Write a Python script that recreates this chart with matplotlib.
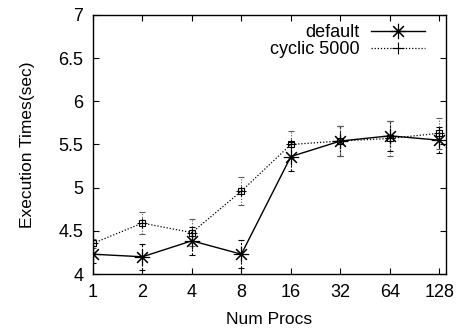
import matplotlib
matplotlib.use("Agg")
import matplotlib.pyplot as plt

# data
procs = ["1", "2", "4", "8", "16", "32", "64", "128"]
default_t = [4.23, 4.20, 4.385, 4.23, 5.36, 5.54, 5.60, 5.55]
default_err = [0.10, 0.15, 0.16, 0.16, 0.17, 0.17, 0.17, 0.15]
cyclic_t = [4.355, 4.59, 4.48, 4.96, 5.50, 5.54, 5.57, 5.63]
cyclic_err = [0.05, 0.13, 0.16, 0.16, 0.16, 0.17, 0.20, 0.18]

plt.rcParams["font.family"] = ["Liberation Sans", "DejaVu Sans"]
plt.rcParams["font.size"] = 12

fig = plt.figure(figsize=(4.6, 3.31), dpi=100)
ax = fig.add_axes([0.202, 0.172, 0.768, 0.783])

x = list(range(len(procs)))
star = (8, 2, 0)

# error bars first, dashed like gnuplot
eb1 = ax.errorbar(x, default_t, yerr=default_err, fmt="none", ecolor="black",
                  elinewidth=0.8, capsize=2, capthick=0.8)
eb1[2][0].set_linestyle((0, (2, 1.5)))
eb2 = ax.errorbar(x, cyclic_t, yerr=cyclic_err, fmt="none", ecolor="0.35",
                  elinewidth=0.8, capsize=2, capthick=0.8)
eb2[2][0].set_linestyle((0, (1, 1.5)))

ax.plot(x, default_t, color="black", lw=1.0, marker=star, ms=11, mew=0.8,
        label="default")
ax.plot(x, cyclic_t, color="black", lw=0.9, ls=(0, (1, 1.5)), marker="s",
        ms=4, mfc="none", mew=0.8)
ax.plot(x, cyclic_t, ls="none", marker="+", ms=7, mew=0.8, color="black")
ax.plot([], [], color="black", lw=0.9, ls=(0, (1, 1.5)), marker="+", ms=9,
        mew=0.8, label="cyclic 5000")

ax.set_xlim(0, 7.14)
ax.set_ylim(4, 7)
ax.set_xticks(x)
ax.set_xticklabels(procs)
ax.set_yticks([4, 4.5, 5, 5.5, 6, 6.5, 7])
ax.set_yticklabels(["4", "4.5", "5", "5.5", "6", "6.5", "7"])
ax.tick_params(direction="in", length=4, width=0.8, top=True, right=True,
               labelsize=13, pad=7)
for s in ax.spines.values():
    s.set_linewidth(1.0)

ax.set_xlabel("Num Procs", fontsize=12.5, labelpad=8)
ax.set_ylabel("Execution Times(sec)", fontsize=12.5, labelpad=17)

h, l = ax.get_legend_handles_labels()
ax.legend(h, l, loc="upper right", frameon=False, markerfirst=False,
          fontsize=13, handlelength=3.0, handletextpad=0.6, labelspacing=0.0,
          borderaxespad=0.1, bbox_to_anchor=(0.965, 1.0))

fig.savefig("out.png", dpi=100)
